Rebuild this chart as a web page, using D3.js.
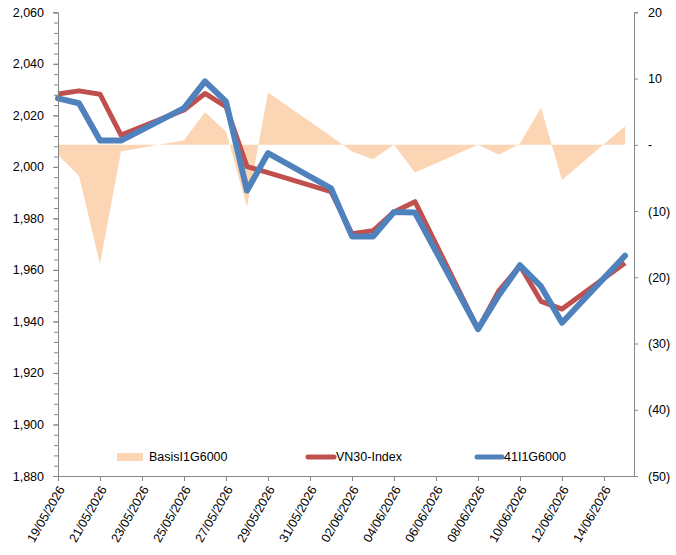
<!DOCTYPE html>
<html>
<head>
<meta charset="utf-8">
<script src="https://cdn.jsdelivr.net/npm/d3@7"></script>
<style>
  body { margin: 0; background: #fff; }
  text { font-family: "Liberation Sans", Arial, sans-serif; }
</style>
</head>
<body>
<svg id="chart" width="676" height="555"></svg>
<script>
// trading days
const dates = ["19/05/2026","20/05/2026","21/05/2026","22/05/2026",
  "25/05/2026","26/05/2026","27/05/2026","28/05/2026","29/05/2026",
  "01/06/2026","02/06/2026","03/06/2026","04/06/2026","05/06/2026",
  "08/06/2026","09/06/2026","10/06/2026","11/06/2026","12/06/2026",
  "15/06/2026"];
const vn30 = [2028.3, 2029.5, 2028.2, 2012.3, 2022.1, 2028.5, 2023.4, 2000.1, 1997.8,
  1990.4, 1974.0, 1975.2, 1982.5, 1986.5, 1937.0, 1952.0, 1961.6, 1947.8, 1944.8, 1962.7];
const f41 = [2026.6, 2024.7, 2010.2, 2010.2, 2022.8, 2033.2, 2025.3, 1990.8, 2005.3,
  1991.7, 1973.0, 1973.0, 1982.5, 1982.3, 1937.0, 1950.3, 1961.8, 1953.6, 1939.5, 1965.5];
const basis = [-1.5, -4.7, -18.0, -1.0, 0.7, 4.9, 2.0, -9.4, 7.9,
  1.3, -1.0, -2.2, 0.0, -4.2, 0.0, -1.5, 0.2, 5.6, -5.3, 2.8];
const leftTicks = [1880, 1900, 1920, 1940, 1960, 1980, 2000, 2020, 2040, 2060];
const rightTicks = [-50, -40, -30, -20, -10, 0, 10, 20];
const xTickLabels = ["19/05/2026","21/05/2026","23/05/2026","25/05/2026","27/05/2026",
  "29/05/2026","31/05/2026","02/06/2026","04/06/2026","06/06/2026","08/06/2026",
  "10/06/2026","12/06/2026","14/06/2026"];
const seriesNames = ["BasisI1G6000", "VN30-Index", "41I1G6000"];

const parse = d3.utcParse("%d/%m/%Y");
const rows = dates.map((d, i) => ({ date: parse(d), vn: vn30[i], f: f41[i], b: basis[i] }));

const svg = d3.select("#chart");
const plotL = 58, plotR = 634, plotT = 12.3, plotB = 476;
const axisColor = "#868686";
const fontSize = 12.5;
const colors = { basis: "#FCD5B4", vn: "#C0504D", f: "#4F81BD" };

const x = d3.scaleUtc()
  .domain([parse(dates[0]), parse(dates[dates.length - 1])])
  .range([plotL, 625]);
const y = d3.scaleLinear().domain([1880, 2060]).range([plotB, plotT]);
const yR = d3.scaleLinear().domain([-50, 20]).range([plotB, plotT]);

// basis area
svg.append("path")
  .datum(rows)
  .attr("fill", colors.basis)
  .attr("d", d3.area()
    .x(d => x(d.date))
    .y0(yR(0))
    .y1(d => yR(d.b)));

// lines
svg.append("path")
  .datum(rows)
  .attr("fill", "none")
  .attr("stroke", colors.vn)
  .attr("stroke-width", 5)
  .attr("stroke-linejoin", "round")
  .attr("d", d3.line().x(d => x(d.date)).y(d => y(d.vn)));

svg.append("path")
  .datum(rows)
  .attr("fill", "none")
  .attr("stroke", colors.f)
  .attr("stroke-width", 6)
  .attr("stroke-linejoin", "round")
  .attr("stroke-linecap", "round")
  .attr("d", d3.line().x(d => x(d.date)).y(d => y(d.f)));

// left axis, minor then major
svg.append("g")
  .attr("transform", `translate(${plotL},0)`)
  .call(d3.axisLeft(y).tickValues(d3.range(1880, 2061, 4)).tickSize(4).tickFormat(""))
  .call(g => g.select(".domain").remove())
  .call(g => g.selectAll("line").attr("stroke", axisColor));

svg.append("g")
  .attr("transform", `translate(${plotL},0)`)
  .call(d3.axisLeft(y).tickValues(leftTicks).tickSize(5).tickPadding(9).tickFormat(d3.format(",")))
  .call(g => g.select(".domain").attr("stroke", axisColor))
  .call(g => g.selectAll("line").attr("stroke", axisColor))
  .call(g => g.selectAll("text").attr("font-size", fontSize).attr("fill", "#000"));

// right axis
svg.append("g")
  .attr("transform", `translate(${plotR},0)`)
  .call(d3.axisRight(yR).tickValues(rightTicks).tickSize(4).tickPadding(10)
    .tickFormat(v => v === 0 ? "-" : v < 0 ? `(${-v})` : v))
  .call(g => g.select(".domain").attr("stroke", axisColor))
  .call(g => g.selectAll("line").attr("stroke", axisColor))
  .call(g => g.selectAll("text").attr("font-size", fontSize).attr("fill", "#000"));

// bottom axis
const xAxis = svg.append("g")
  .attr("transform", `translate(0,${plotB})`)
  .call(d3.axisBottom(x).tickValues(xTickLabels.map(parse)).tickSize(5)
    .tickFormat(d3.utcFormat("%d/%m/%Y")));
xAxis.select(".domain").attr("d", `M${plotL},0.5H${plotR}`).attr("stroke", axisColor);
xAxis.selectAll("line").attr("stroke", axisColor);
xAxis.selectAll("text")
  .attr("font-size", fontSize)
  .attr("fill", "#000")
  .attr("text-anchor", "end")
  .attr("x", 0).attr("y", 0).attr("dy", "0.35em")
  .attr("transform", "translate(3,11) rotate(-60)");

// legend
const lg = svg.append("g").attr("font-size", fontSize);
lg.append("rect").attr("x", 117).attr("y", 453).attr("width", 26).attr("height", 8).attr("fill", colors.basis);
lg.append("text").attr("x", 149).attr("y", 457).attr("dy", "0.35em").text(seriesNames[0]);
lg.append("line").attr("x1", 308).attr("x2", 334).attr("y1", 457).attr("y2", 457)
  .attr("stroke", colors.vn).attr("stroke-width", 5).attr("stroke-linecap", "round");
lg.append("text").attr("x", 336).attr("y", 457).attr("dy", "0.35em").text(seriesNames[1]);
lg.append("line").attr("x1", 477).attr("x2", 502).attr("y1", 457).attr("y2", 457)
  .attr("stroke", colors.f).attr("stroke-width", 5).attr("stroke-linecap", "round");
lg.append("text").attr("x", 504).attr("y", 457).attr("dy", "0.35em").text(seriesNames[2]);
</script>
</body>
</html>
